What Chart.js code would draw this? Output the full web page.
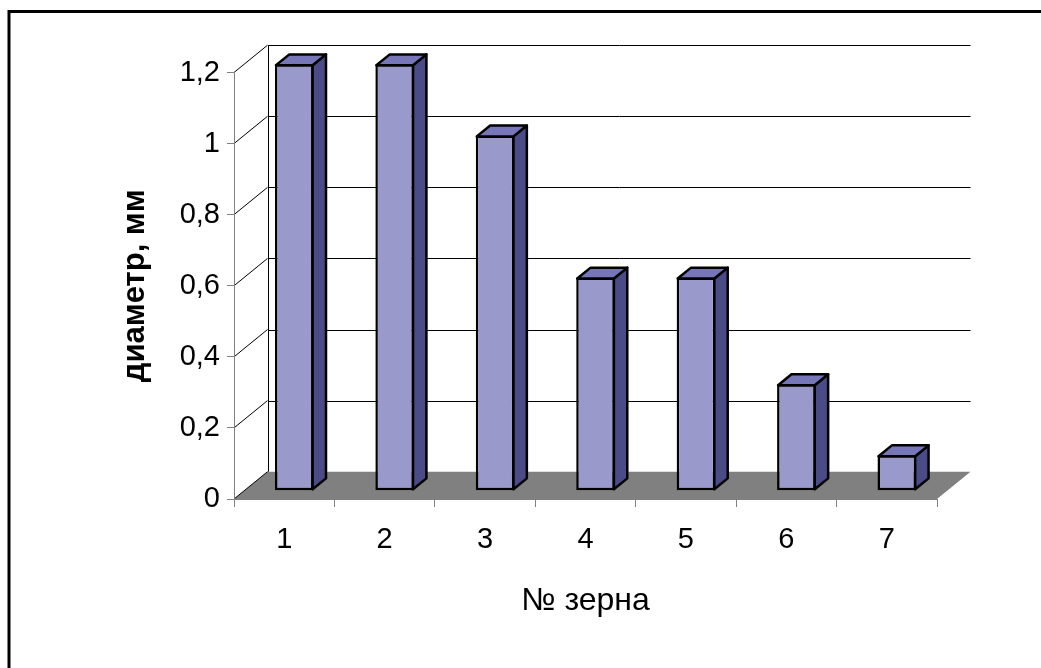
<!DOCTYPE html>
<html>
<head>
<meta charset="utf-8">
<script src="https://cdn.jsdelivr.net/npm/chart.js@4/dist/chart.umd.min.js"></script>
<style>
  html, body { margin: 0; padding: 0; background: #fff; }
  #wrap { width: 1041px; height: 668px; }
</style>
</head>
<body>
<div id="wrap"><canvas id="c" width="1041" height="668"></canvas></div>
<script>
// Grain numbers and measured diameters (mm)
const grains = ['1', '2', '3', '4', '5', '6', '7'];
const diameters = [1.2, 1.2, 1.0, 0.6, 0.6, 0.3, 0.1];
const yTicksMax = 1.2;
const yTicksStep = 0.2;

// Oblique projection of the plot box depth
const DX = 33.5, DY = -27.3;
// Bars sit between these fractions of the depth
const BAR_NEAR = 0.3, BAR_FAR = 0.7;

const FONT = 'Liberation Sans, Arial, sans-serif';

const fmt = v => String(Math.round(v * 10) / 10).replace('.', ',');

const box3d = {
  id: 'box3d',
  beforeDraw(chart) {
    const { ctx, chartArea: a, scales: { y } } = chart;
    ctx.save();
    // outer frame
    ctx.lineWidth = 3;
    ctx.strokeStyle = '#000';
    ctx.strokeRect(9, 11.5, chart.width + 40, chart.height + 40);

    // floor
    ctx.fillStyle = '#808080';
    ctx.beginPath();
    ctx.moveTo(a.left, a.bottom);
    ctx.lineTo(a.left + DX, a.bottom + DY);
    ctx.lineTo(a.right + DX, a.bottom + DY);
    ctx.lineTo(a.right, a.bottom);
    ctx.closePath();
    ctx.fill();

    // back wall gridlines and side wall diagonals
    ctx.lineWidth = 1;
    ctx.strokeStyle = '#000';
    const bx = Math.round(a.left + DX) + 0.5;
    y.ticks.forEach(t => {
      const py = y.getPixelForValue(t.value);
      const by = Math.round(py + DY) + 0.5;
      ctx.beginPath();
      ctx.moveTo(a.left, py);
      ctx.lineTo(a.left + DX, py + DY);
      ctx.stroke();
      if (t.value > 0) {
        ctx.beginPath();
        ctx.moveTo(bx, by);
        ctx.lineTo(a.right + DX, by);
        ctx.stroke();
      }
    });
    // back corner edge
    ctx.beginPath();
    ctx.moveTo(bx, y.getPixelForValue(yTicksMax) + DY);
    ctx.lineTo(bx, a.bottom + DY);
    ctx.stroke();
    ctx.restore();
  },
  beforeDatasetsDraw(chart) {
    chart.ctx.save();
    chart.ctx.translate(DX * BAR_NEAR, DY * BAR_NEAR);
  },
  afterDatasetsDraw(chart) {
    const ctx = chart.ctx;
    ctx.restore();
    const ox = DX * BAR_NEAR, oy = DY * BAR_NEAR;
    const dx = DX * (BAR_FAR - BAR_NEAR), dy = DY * (BAR_FAR - BAR_NEAR);
    ctx.save();
    ctx.lineWidth = 2.5;
    ctx.lineJoin = 'round';
    ctx.strokeStyle = '#000';
    chart.getDatasetMeta(0).data.forEach(bar => {
      const p = bar.getProps(['x', 'y', 'base', 'width']);
      const l = p.x - p.width / 2 + ox + 1;
      const r = p.x + p.width / 2 + ox - 1;
      const t = p.y + oy + 1;
      const b = p.base + oy - 1;
      // side face
      ctx.fillStyle = '#4b4b88';
      ctx.beginPath();
      ctx.moveTo(r, t);
      ctx.lineTo(r + dx, t + dy);
      ctx.lineTo(r + dx, b + dy);
      ctx.lineTo(r, b);
      ctx.closePath();
      ctx.fill();
      ctx.stroke();
      // top face
      ctx.fillStyle = '#7676b8';
      ctx.beginPath();
      ctx.moveTo(l, t);
      ctx.lineTo(l + dx, t + dy);
      ctx.lineTo(r + dx, t + dy);
      ctx.lineTo(r, t);
      ctx.closePath();
      ctx.fill();
      ctx.stroke();
    });
    ctx.restore();
  }
};

new Chart(document.getElementById('c'), {
  type: 'bar',
  data: {
    labels: grains,
    datasets: [{
      data: diameters,
      backgroundColor: '#9999cc',
      borderColor: '#000',
      borderWidth: 2.5,
      borderSkipped: false,
      categoryPercentage: 1,
      barPercentage: 0.385,
      clip: false
    }]
  },
  options: {
    responsive: false,
    animation: false,
    events: [],
    layout: { padding: { left: 0, top: 72.5, right: 104, bottom: 0 } },
    plugins: { legend: { display: false }, tooltip: { enabled: false } },
    scales: {
      x: {
        afterFit(s) { s.height = 169; },
        grid: {
          offset: true,
          drawOnChartArea: false,
          drawTicks: true,
          tickLength: 8,
          color: '#808080'
        },
        border: { display: true, color: '#808080', width: 1 },
        ticks: {
          color: '#000',
          padding: 16,
          font: { family: FONT, size: 29 }
        },
        title: {
          display: true,
          text: '№ зерна',
          color: '#000',
          padding: { top: 0, bottom: 48 },
          font: { family: FONT, size: 32, weight: 'normal' }
        }
      },
      y: {
        min: 0,
        max: yTicksMax,
        afterFit(s) { s.width = 234; },
        grid: {
          drawOnChartArea: false,
          drawTicks: true,
          tickLength: 7,
          color: '#808080'
        },
        border: { display: true, color: '#808080', width: 1 },
        ticks: {
          stepSize: yTicksStep,
          color: '#000',
          padding: 7,
          font: { family: FONT, size: 29 },
          callback: v => fmt(v)
        },
        title: {
          display: true,
          text: 'диаметр, мм',
          color: '#000',
          padding: { top: 117, bottom: 0 },
          font: { family: FONT, size: 31, weight: 'bold' }
        }
      }
    }
  },
  plugins: [box3d]
});
</script>
</body>
</html>
